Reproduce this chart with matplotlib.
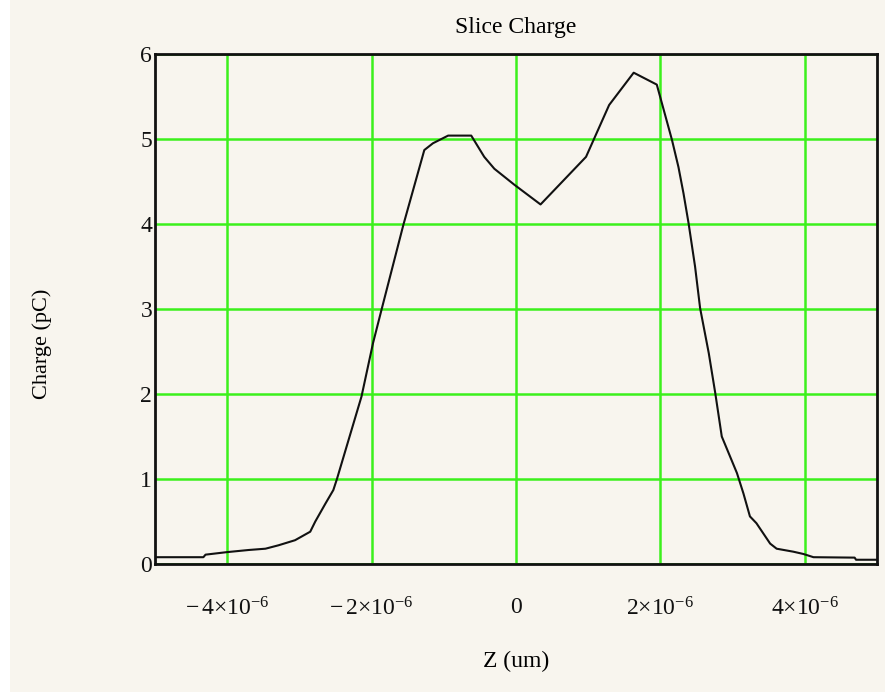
import numpy as np
import matplotlib
matplotlib.use("Agg")
import matplotlib.pyplot as plt
from matplotlib.ticker import FixedLocator, FuncFormatter
from matplotlib.patches import Rectangle

# slice positions (in um) and charge per slice (pC)
z_um = [-5.0, -4.33, -4.30, -4.0, -3.70, -3.47, -3.29, -3.06, -2.85, -2.78,
        -2.64, -2.53, -2.48, -2.14, -1.98, -1.86, -1.56, -1.27, -1.15, -0.94,
        -0.62, -0.44, -0.30, -0.02, 0.34, 0.97, 1.29, 1.63, 1.95, 2.16,
        2.25, 2.32, 2.39, 2.48, 2.55, 2.67, 2.76, 2.85, 3.06, 3.15,
        3.24, 3.33, 3.52, 3.61, 3.84, 3.98, 4.12, 4.69, 4.71, 5.0]
charge_pc = [0.08, 0.08, 0.11, 0.14, 0.165, 0.18, 0.22, 0.28, 0.38, 0.50,
             0.71, 0.87, 1.00, 1.97, 2.60, 3.00, 3.99, 4.87, 4.95, 5.04,
             5.04, 4.79, 4.65, 4.46, 4.23, 4.79, 5.40, 5.78, 5.64, 4.99,
             4.67, 4.36, 4.01, 3.50, 3.01, 2.48, 2.01, 1.50, 1.07, 0.83,
             0.56, 0.48, 0.24, 0.18, 0.145, 0.118, 0.08, 0.075, 0.05, 0.05]

x_ticks = [-4e-6, -2e-6, 0, 2e-6, 4e-6]
y_ticks = [0, 1, 2, 3, 4, 5, 6]

plt.rcParams['font.family'] = ['Liberation Serif', 'DejaVu Serif']
plt.rcParams['mathtext.fontset'] = 'custom'
plt.rcParams['mathtext.rm'] = 'Liberation Serif'
plt.rcParams['mathtext.it'] = 'Liberation Serif'

bg = '#f8f5ee'
fig = plt.figure(figsize=(8.85, 6.92), dpi=100, facecolor=bg)
fig.patches.append(Rectangle((0, 0), 10 / 885, 1, transform=fig.transFigure,
                             facecolor='white', edgecolor='none'))
ax = fig.add_axes([155 / 885, 128 / 692, 722 / 885, 510 / 692])
ax.set_facecolor(bg)

z = np.array(z_um) * 1e-6
ax.plot(z, charge_pc, color='#111111', lw=1.5)

ax.set_xlim(-5e-6, 5e-6)
ax.set_ylim(0, 6)


def sci_label(v, pos):
    if v == 0:
        return '0'
    m = int(round(v / 1e-6))
    if m < 0:
        return r'$-\,%d{\times}10^{-6}$' % abs(m)
    return r'$%d{\times}10^{-6}$' % m


ax.xaxis.set_major_locator(FixedLocator(x_ticks))
ax.xaxis.set_major_formatter(FuncFormatter(sci_label))
ax.yaxis.set_major_locator(FixedLocator(y_ticks))
ax.tick_params(length=0, labelsize=17, colors='#111111')
ax.tick_params(axis='x', pad=24)
ax.tick_params(axis='y', pad=2)

ax.grid(True, color='#3cf01c', lw=1.8)
ax.set_axisbelow(True)
for s in ax.spines.values():
    s.set_linewidth(2)
    s.set_color('#111111')

ax.set_title('Slice Charge', fontsize=17, pad=15)
ax.set_xlabel('Z (um)', fontsize=17, labelpad=22)
fig.text(42 / 885, 0.5 + 2 / 692, 'Charge (pC)', rotation=90, fontsize=16,
         ha='center', va='center')

fig.savefig('out.png', dpi=100, facecolor=bg)
